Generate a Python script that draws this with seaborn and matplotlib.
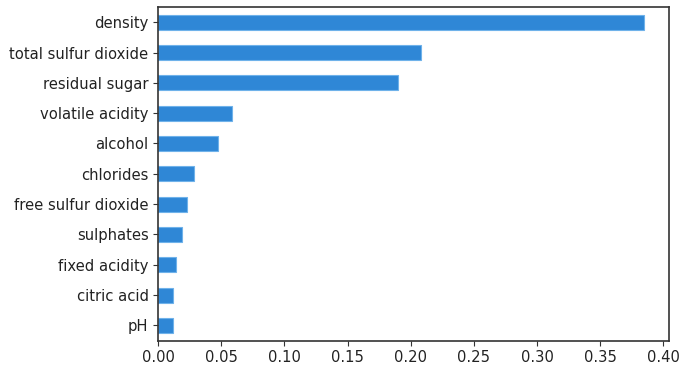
import pandas as pd
import matplotlib
matplotlib.use("Agg")
import matplotlib.pyplot as plt
import seaborn as sns

# feature importances, smallest at the bottom
features = ['density', 'total sulfur dioxide', 'residual sugar', 'volatile acidity',
            'alcohol', 'chlorides', 'free sulfur dioxide', 'sulphates',
            'fixed acidity', 'citric acid', 'pH']
importance = [0.385, 0.208, 0.190, 0.0588, 0.047, 0.0287, 0.0224, 0.019,
              0.0139, 0.0114, 0.0114]

df = pd.DataFrame({'feature': features, 'importance': importance})

fig = plt.figure(figsize=(6.85, 3.71), dpi=100)
ax = fig.add_axes([0.231, 0.082, 0.7456, 0.899])
sns.barplot(data=df, x='importance', y='feature', orient='h', width=0.5,
            color='#2f87d6', saturation=1, edgecolor='#6fb2ea', linewidth=0.8, ax=ax)

ax.set_xlim(0, 0.4045)
ax.set_xticks([0.0, 0.05, 0.1, 0.15, 0.2, 0.25, 0.3, 0.35, 0.4])
ax.set_xticklabels([f'{t:.2f}' for t in ax.get_xticks()])
ax.set_xlabel('')
ax.set_ylabel('')
ax.tick_params(labelsize=10.6, length=3.5, color='#333333', labelcolor='#222222')
for s in ax.spines.values():
    s.set_color('#333333')
    s.set_linewidth(1.2)

fig.savefig('out.png', dpi=100)
